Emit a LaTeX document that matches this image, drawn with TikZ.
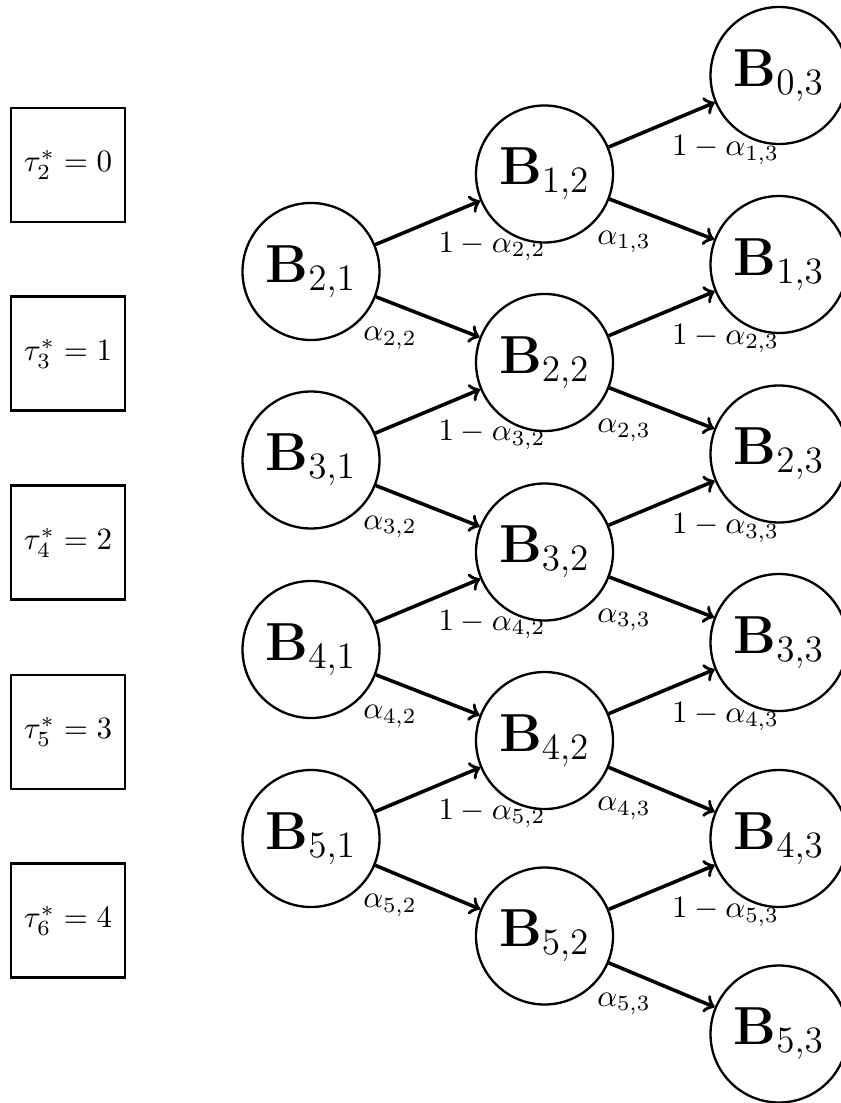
\documentclass[tikz,border=0pt]{standalone}
\begin{document}
\begin{tikzpicture}[x=0.32258pt, y=-0.32258pt,
  bnode/.style={circle, draw, line width=0.75pt, minimum size=137*0.32258pt, inner sep=0pt, font=\LARGE},
  tbox/.style={rectangle, draw, line width=0.75pt, minimum size=114*0.32258pt, inner sep=0pt},
  arr/.style={->, line width=1.15pt},
  lab/.style={inner sep=0pt}]
\useasboundingbox (0,0) rectangle (840,1103);

% stage boxes
\foreach \k/\y/\v in {2/165/0, 3/353.5/1, 4/542.5/2, 5/732/3, 6/920.5/4}
  \node[tbox] (t\k) at (68,\y) {$\tau_{\k}^{*} = \v$};

% first column
\foreach \i/\y in {2/271.5, 3/460, 4/649.5, 5/838.5}
  \node[bnode] (b\i1) at (311,\y) {$\mathbf{B}_{\i,1}$};

% second column
\foreach \i/\y in {1/174, 2/362.5, 3/552, 4/740.5, 5/936}
  \node[bnode] (b\i2) at (544.5,\y) {$\mathbf{B}_{\i,2}$};

% third column
\foreach \i/\y in {0/75.5, 1/264.5, 2/454, 3/642.5, 4/838.5, 5/1034}
  \node[bnode] (b\i3) at (779,\y) {$\mathbf{B}_{\i,3}$};

% transitions from column 1 to column 2
\foreach \i/\j in {2/1, 3/2, 4/3, 5/4} {
  \draw[arr] (b\i1) -- (b\j2);
  \draw[arr] (b\i1) -- (b\i2);
  \node[lab] (u\i2) at ([shift={(181,-25)}]b\i1.center) {$1-\alpha_{\i,2}$};
  \node[lab] (d\i2) at ([shift={(79,67)}]b\i1.center) {$\alpha_{\i,2}$};
}

% transitions from column 2 to column 3
\foreach \i/\j in {1/0, 2/1, 3/2, 4/3, 5/4} {
  \draw[arr] (b\i2) -- (b\j3);
  \draw[arr] (b\i2) -- (b\i3);
  \node[lab] (u\i3) at ([shift={(181,-24)}]b\i2.center) {$1-\alpha_{\i,3}$};
  \node[lab] (d\i3) at ([shift={(79.5,68)}]b\i2.center) {$\alpha_{\i,3}$};
}
\end{tikzpicture}
\end{document}
